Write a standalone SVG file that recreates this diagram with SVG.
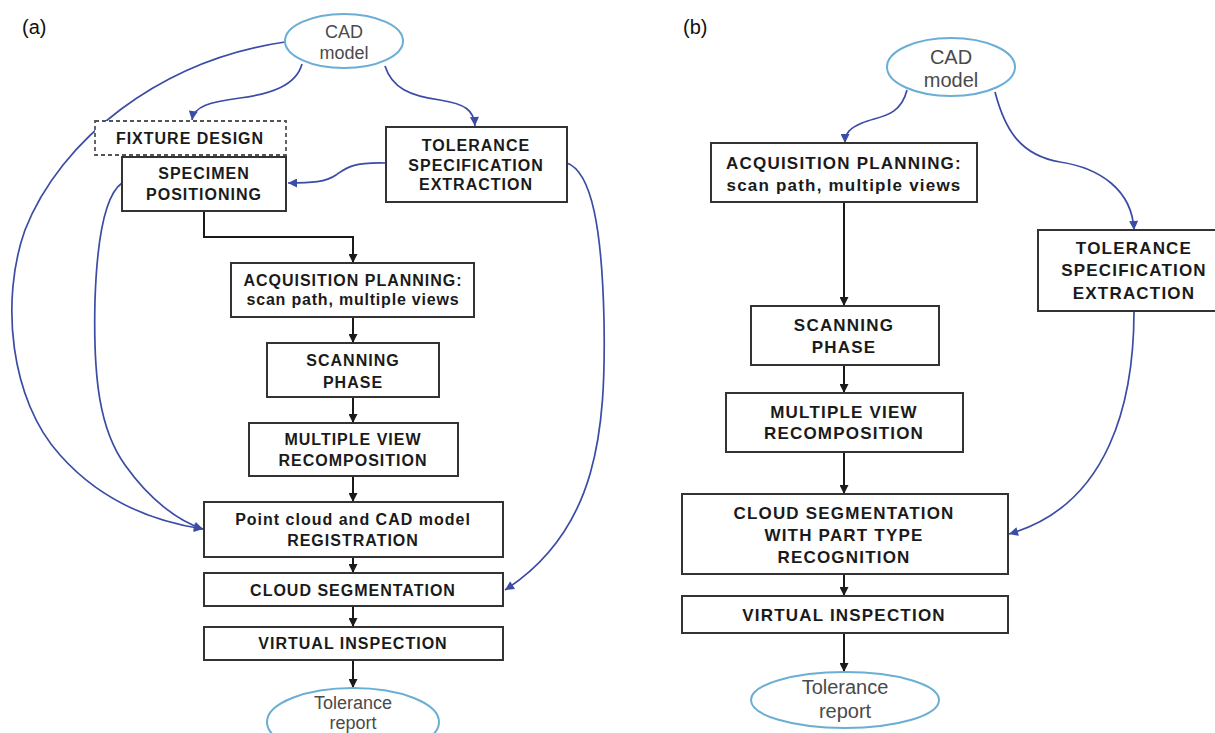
<svg xmlns="http://www.w3.org/2000/svg" width="1215" height="733" viewBox="0 0 1215 733">
<style>
.box{fill:#fff;stroke:#333;stroke-width:2}
.dash{fill:#fff;stroke:#555;stroke-width:1.8;stroke-dasharray:4 3}
.ell{fill:#fff;stroke:#6aaed6;stroke-width:2}
.ta{font-family:"Liberation Sans",Arial,sans-serif;font-weight:bold;font-size:16px;letter-spacing:1px;fill:#1a1a1a;text-anchor:middle}
.tb{font-family:"Liberation Sans",Arial,sans-serif;font-weight:bold;font-size:17px;letter-spacing:1.2px;fill:#1a1a1a;text-anchor:middle}
.ea{font-family:"Liberation Sans",Arial,sans-serif;font-size:18px;fill:#4a4a4a;text-anchor:middle}
.eb{font-family:"Liberation Sans",Arial,sans-serif;font-size:20px;fill:#4a4a4a;text-anchor:middle}
.lab{font-family:"Liberation Sans",Arial,sans-serif;font-size:20px;fill:#111}
.k{fill:none;stroke:#1a1a1a;stroke-width:2;marker-end:url(#ak)}
.b{fill:none;stroke:#3b4ca5;stroke-width:1.7;marker-end:url(#ab)}
</style>
<defs>
<marker id="ak" viewBox="0 0 10 10" refX="10" refY="5" markerWidth="10" markerHeight="9" markerUnits="userSpaceOnUse" orient="auto"><path d="M0,0 L10,5 L0,10 z" fill="#1a1a1a"/></marker>
<marker id="ab" viewBox="0 0 10 10" refX="10" refY="5" markerWidth="10" markerHeight="9" markerUnits="userSpaceOnUse" orient="auto"><path d="M0,0 L10,5 L0,10 z" fill="#3b4ca5"/></marker>
</defs>
<rect width="1215" height="733" fill="#fff"/>
<text class="lab" x="22" y="34">(a)</text>
<text class="lab" x="683" y="34">(b)</text>

<g id="connectors">
<!-- panel a black -->
<path class="k" d="M204,211 V237 H353 V263"/>
<path class="k" d="M353,317 V343"/>
<path class="k" d="M353,397 V423"/>
<path class="k" d="M353,476 V502"/>
<path class="k" d="M353,557 V573"/>
<path class="k" d="M353,606 V627"/>
<path class="k" d="M353,660 V688"/>
<!-- panel a blue -->
<path class="b" d="M302,64 C296,86 270,94 240,98 C210,102 194,106 192,120"/>
<path class="b" d="M385,66 C392,88 410,96 440,100 C465,104 474,110 475,126"/>
<path class="b" d="M386,163 C352,162 346,168 336,175 C326,182 312,183 288,183"/>
<path class="b" d="M285,42 C160,60 60,140 25,230 C0,300 10,400 60,455 C100,500 150,521 203,529"/>
<path class="b" d="M122,183 C105,195 97,240 95,300 C93,380 100,430 125,465 C150,500 178,521 203,529"/>
<path class="b" d="M567,163 C592,172 602,230 604,320 C606,430 598,530 505,590"/>
<!-- panel b black -->
<path class="k" d="M844,202 V306"/>
<path class="k" d="M844,365 V393"/>
<path class="k" d="M844,452 V494"/>
<path class="k" d="M844,574 V596"/>
<path class="k" d="M844,633 V672"/>
<!-- panel b blue -->
<path class="b" d="M907,90 C900,118 878,116 862,123 C850,128 845,133 845,143"/>
<path class="b" d="M995,92 C1005,130 1020,155 1060,162 C1100,168 1132,190 1134,230"/>
<path class="b" d="M1134,311 C1134,400 1110,505 1009,534"/>
</g>

<g id="a-cad"><ellipse class="ell" cx="344" cy="41" rx="59" ry="27"/><text class="ea" x="344" y="38">CAD</text><text class="ea" x="344" y="59">model</text></g>
<g id="a-fixture"><rect class="dash" x="95" y="121" width="191" height="34"/><text class="ta" x="190" y="144">FIXTURE DESIGN</text></g>
<g id="a-specimen"><rect class="box" x="122" y="157" width="164" height="54"/><text class="ta" x="204" y="179">SPECIMEN</text><text class="ta" x="204" y="200">POSITIONING</text></g>
<g id="a-tolerance"><rect class="box" x="386" y="127" width="181" height="75"/><text class="ta" x="476" y="151">TOLERANCE</text><text class="ta" x="476" y="171">SPECIFICATION</text><text class="ta" x="476" y="190">EXTRACTION</text></g>
<g id="a-acq"><rect class="box" x="231" y="263" width="243" height="54"/><text class="ta" x="353" y="286">ACQUISITION PLANNING:</text><text class="ta" x="353" y="305" style="letter-spacing:0.8px">scan path, multiple views</text></g>
<g id="a-scan"><rect class="box" x="267" y="343" width="172" height="54"/><text class="ta" x="353" y="366">SCANNING</text><text class="ta" x="353" y="388">PHASE</text></g>
<g id="a-multi"><rect class="box" x="249" y="423" width="209" height="53"/><text class="ta" x="353" y="445">MULTIPLE VIEW</text><text class="ta" x="353" y="466">RECOMPOSITION</text></g>
<g id="a-reg"><rect class="box" x="204" y="502" width="299" height="55"/><text class="ta" x="353" y="525">Point cloud and CAD model</text><text class="ta" x="353" y="546">REGISTRATION</text></g>
<g id="a-seg"><rect class="box" x="204" y="573" width="299" height="33"/><text class="ta" x="353" y="596">CLOUD SEGMENTATION</text></g>
<g id="a-vi"><rect class="box" x="204" y="627" width="299" height="33"/><text class="ta" x="353" y="649">VIRTUAL INSPECTION</text></g>
<g id="a-report"><ellipse class="ell" cx="353" cy="722" rx="86" ry="34"/><text class="ea" x="353" y="709">Tolerance</text><text class="ea" x="353" y="729">report</text></g>

<g id="b-cad"><ellipse class="ell" cx="951" cy="67" rx="64" ry="29"/><text class="eb" x="951" y="64">CAD</text><text class="eb" x="951" y="87">model</text></g>
<g id="b-acq"><rect class="box" x="711" y="143" width="266" height="59"/><text class="tb" x="844" y="169">ACQUISITION PLANNING:</text><text class="tb" x="844" y="191">scan path, multiple views</text></g>
<g id="b-tolerance"><rect class="box" x="1038" y="230" width="195" height="81"/><text class="tb" x="1134" y="254">TOLERANCE</text><text class="tb" x="1134" y="276">SPECIFICATION</text><text class="tb" x="1134" y="299">EXTRACTION</text></g>
<g id="b-scan"><rect class="box" x="751" y="306" width="188" height="59"/><text class="tb" x="844" y="331">SCANNING</text><text class="tb" x="844" y="353">PHASE</text></g>
<g id="b-multi"><rect class="box" x="726" y="393" width="237" height="59"/><text class="tb" x="844" y="418">MULTIPLE VIEW</text><text class="tb" x="844" y="439">RECOMPOSITION</text></g>
<g id="b-seg"><rect class="box" x="682" y="494" width="326" height="80"/><text class="tb" x="844" y="519">CLOUD SEGMENTATION</text><text class="tb" x="844" y="541">WITH PART TYPE</text><text class="tb" x="844" y="563">RECOGNITION</text></g>
<g id="b-vi"><rect class="box" x="682" y="596" width="326" height="37"/><text class="tb" x="844" y="621">VIRTUAL INSPECTION</text></g>
<g id="b-report"><ellipse class="ell" cx="845" cy="700" rx="94" ry="28"/><text class="eb" x="845" y="694">Tolerance</text><text class="eb" x="845" y="718">report</text></g>
</svg>
